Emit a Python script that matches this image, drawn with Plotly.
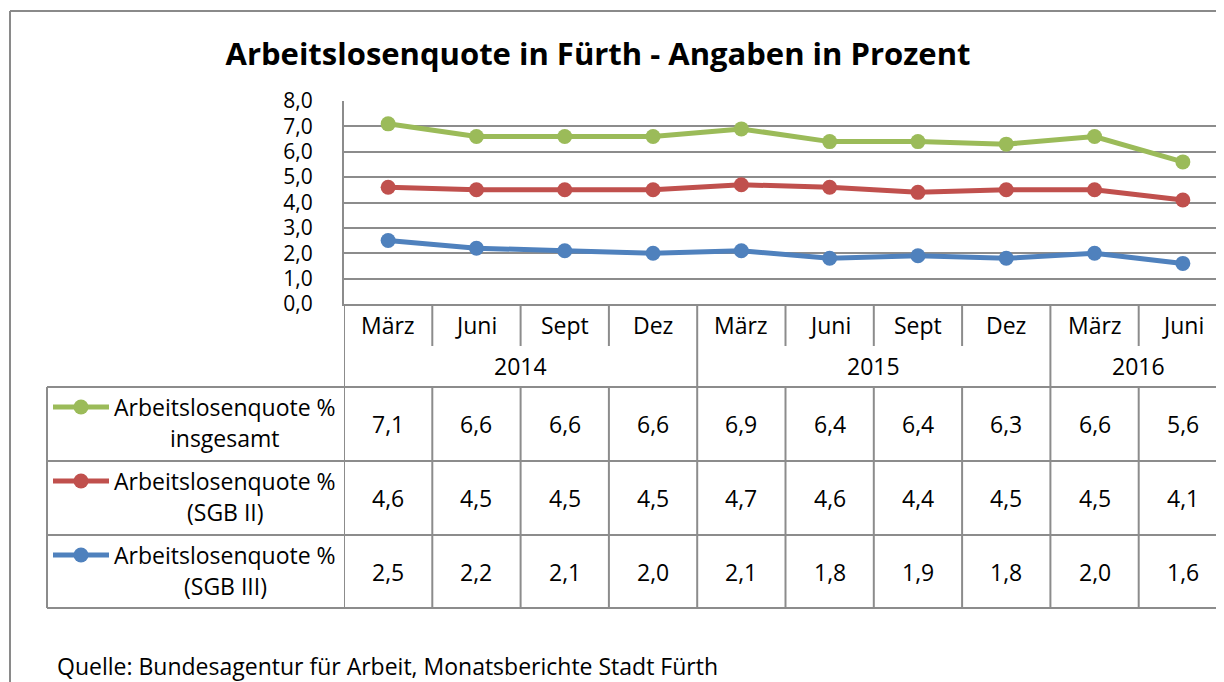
import plotly.graph_objects as go

# ---------------- data ----------------
months = ["März", "Juni", "Sept", "Dez", "März", "Juni", "Sept", "Dez", "März", "Juni"]
years = ["2014", "2015", "2016"]
year_first_idx = [0, 4, 8]
year_last_idx = [3, 7, 9]
series_line1 = ["Arbeitslosenquote %", "Arbeitslosenquote %", "Arbeitslosenquote %"]
series_line2 = ["insgesamt", "(SGB II)", "(SGB III)"]
insgesamt = [7.1, 6.6, 6.6, 6.6, 6.9, 6.4, 6.4, 6.3, 6.6, 5.6]
sgb2 = [4.6, 4.5, 4.5, 4.5, 4.7, 4.6, 4.4, 4.5, 4.5, 4.1]
sgb3 = [2.5, 2.2, 2.1, 2.0, 2.1, 1.8, 1.9, 1.8, 2.0, 1.6]
series_values = [insgesamt, sgb2, sgb3]
colors = ["#9BBB59", "#C0504D", "#4F81BD"]

# ---------------- layout geometry (page pixels) ----------------
OFF = 8                          # default page body margin
W, H = 1224 - OFF, 682 - OFF     # figure size
L, T, B = 344, 101, 304          # plot area left / top / bottom (page pixels)
COLW = 88.3                      # width of one category column
plot_w = 1224 - L
plot_h = B - T
FONT = "Open Sans"
GRID = "#8C8C8C"
FS = 23

def py(ypix):
    return (B - ypix) / plot_h

def px(xpix):
    return (xpix - L) / plot_w

x = list(range(len(months)))
xmax = -0.5 + plot_w / COLW

fig = go.Figure()
for vals, col, n1, n2 in zip(series_values, colors, series_line1, series_line2):
    fig.add_trace(go.Scatter(
        x=x, y=vals, mode="lines+markers", name=f"{n1} {n2}",
        line=dict(color=col, width=5),
        marker=dict(color=col, size=15),
        showlegend=False, cliponaxis=False,
    ))

shapes = []
ann = []
line_style = dict(color=GRID, width=2)

# outer chart border
shapes.append(dict(type="line", xref="paper", yref="paper", x0=px(10), x1=px(1240), y0=py(11), y1=py(11), line=dict(color="#8A8A8A", width=2)))
shapes.append(dict(type="line", xref="paper", yref="paper", x0=px(10), x1=px(10), y0=py(11), y1=py(700), line=dict(color="#8A8A8A", width=2)))

# table rows (pixels)
row_year_bot = 387
row_bounds = [387, 461, 535, 608]
month_row_bot = 346
left_edge = 47

# vertical separators in month row
for i in range(len(months)):
    xb = i - 0.5
    if i in year_first_idx:
        continue
    shapes.append(dict(type="line", xref="x", yref="paper", x0=xb, x1=xb, y0=py(B), y1=py(month_row_bot), line=line_style))
# year boundaries through month + year rows
for i in year_first_idx:
    xb = i - 0.5
    shapes.append(dict(type="line", xref="x", yref="paper", x0=xb, x1=xb, y0=py(B), y1=py(row_year_bot), line=line_style))
# vertical lines through data rows
for i in range(len(months)):
    xb = i - 0.5
    shapes.append(dict(type="line", xref="x", yref="paper", x0=xb, x1=xb, y0=py(row_bounds[0]), y1=py(row_bounds[-1]), line=line_style))
shapes.append(dict(type="line", xref="paper", yref="paper", x0=px(left_edge), x1=px(left_edge), y0=py(row_bounds[0]), y1=py(row_bounds[-1]), line=line_style))
# horizontal lines
for yb in row_bounds:
    shapes.append(dict(type="line", xref="paper", yref="paper", x0=px(left_edge), x1=px(1240), y0=py(yb), y1=py(yb), line=line_style))

txt_font = dict(family=FONT, size=FS, color="#000")
# month labels
for i, m in enumerate(months):
    ann.append(dict(x=i, y=py(325), xref="x", yref="paper", text=m, showarrow=False,
                    font=txt_font, xanchor="center", yanchor="middle"))
# year labels
for yr, a, b in zip(years, year_first_idx, year_last_idx):
    ann.append(dict(x=(a + b) / 2, y=py(366), xref="x", yref="paper", text=yr, showarrow=False,
                    font=txt_font, xanchor="center", yanchor="middle"))

# data rows
for r, (vals, col, n1, n2) in enumerate(zip(series_values, colors, series_line1, series_line2)):
    ytop, ybot = row_bounds[r], row_bounds[r + 1]
    yc = (ytop + ybot) / 2
    for i, v in enumerate(vals):
        ann.append(dict(x=i, y=py(yc), xref="x", yref="paper", text=f"{v:.1f}".replace(".", ","),
                        showarrow=False, font=txt_font, xanchor="center", yanchor="middle"))
    y1 = ytop + 20
    y2 = ytop + 51
    ann.append(dict(x=px(225), y=py(y1), xref="paper", yref="paper", text=n1, showarrow=False,
                    font=txt_font, xanchor="center", yanchor="middle"))
    ann.append(dict(x=px(225), y=py(y2), xref="paper", yref="paper", text=n2, showarrow=False,
                    font=txt_font, xanchor="center", yanchor="middle"))
    # legend key
    shapes.append(dict(type="line", xref="paper", yref="paper", x0=px(53), x1=px(109), y0=py(y1), y1=py(y1),
                       line=dict(color=col, width=5)))
    shapes.append(dict(type="circle", xref="paper", yref="paper", x0=px(81 - 7.5), x1=px(81 + 7.5),
                       y0=py(y1 - 7.5), y1=py(y1 + 7.5), fillcolor=col, line=dict(color=col, width=0)))

# source
ann.append(dict(x=px(55), y=py(666), xref="paper", yref="paper",
                text="Quelle: Bundesagentur für Arbeit, Monatsberichte Stadt Fürth", showarrow=False,
                font=txt_font, xanchor="left", yanchor="middle"))

fig.update_layout(
    width=W, height=H,
    margin=dict(l=L - OFF, r=0, t=T - OFF, b=H - (B - OFF), pad=0),
    paper_bgcolor="white", plot_bgcolor="white",
    separators=",.",
    title=dict(text="<b>Arbeitslosenquote in Fürth - Angaben in Prozent</b>",
               x=(598 - OFF) / W, xref="container", xanchor="center",
               y=1 - (54 - OFF) / H, yref="container", yanchor="middle",
               font=dict(family=FONT, size=31, color="#000")),
    xaxis=dict(range=[-0.5, xmax], showticklabels=False, showgrid=False, zeroline=False,
               showline=True, linecolor=GRID, linewidth=2, ticks=""),
    yaxis=dict(range=[0, 8], dtick=1, tickformat=".1f", showgrid=True, gridcolor=GRID, gridwidth=2,
               zeroline=False, showline=True, linecolor=GRID, linewidth=2, ticks="",
               tickfont=dict(family=FONT, size=21, color="#000"), ticklabelstandoff=25),
    shapes=shapes, annotations=ann,
)

fig.write_html("out.html")
